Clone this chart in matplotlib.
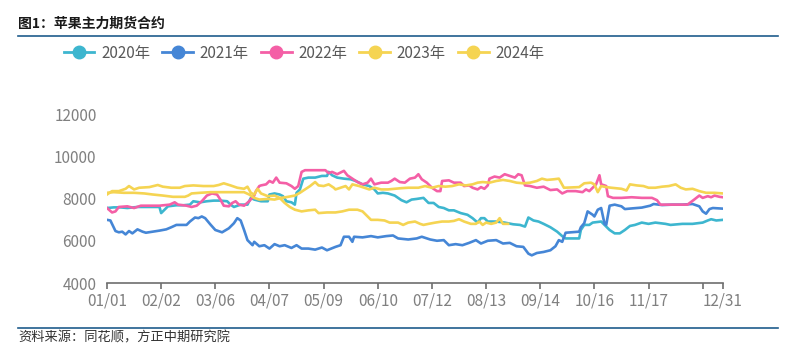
import matplotlib
matplotlib.use("Agg")
import matplotlib.pyplot as plt
from matplotlib.lines import Line2D

plt.rcParams['font.family'] = ['Noto Sans CJK SC', 'DejaVu Sans']

# (day of year, price)
s2020 = [(0, 7550), (4, 7580), (8, 7580), (12, 7550), (18, 7600), (23, 7600), (31, 7600), (32, 7310),
         (34, 7470), (36, 7630), (41, 7680), (45, 7680), (49, 7710), (51, 7870), (55, 7820), (59, 7870),
         (63, 7900), (67, 7900), (71, 7870), (73, 7710), (75, 7600), (79, 7710), (83, 7710), (85, 8030),
         (87, 7950), (91, 7870), (95, 7870), (96, 8190), (99, 8240), (102, 8190), (104, 8110), (106, 7870),
         (109, 7820), (111, 7710), (112, 8270), (114, 8430), (116, 8940), (119, 8990), (123, 8990),
         (127, 9070), (130, 9070), (131, 9260), (133, 9100), (136, 8990), (140, 8940), (144, 8910),
         (147, 8830), (151, 8670), (155, 8590), (158, 8430), (160, 8240), (163, 8270), (166, 8240),
         (170, 8140), (174, 7920), (177, 7820), (180, 7950), (183, 7980), (187, 8030), (190, 7790),
         (193, 7790), (196, 7600), (199, 7550), (202, 7440), (205, 7440), (209, 7310), (213, 7230),
         (216, 7070), (219, 6860), (221, 7070), (223, 7070), (225, 6910), (230, 6910), (235, 6860),
         (240, 6780), (244, 6750), (247, 6670), (249, 7100), (252, 6960), (255, 6910), (258, 6800),
         (262, 6640), (266, 6430), (269, 6220), (271, 6110), (279, 6110), (280, 6510), (282, 6750),
         (285, 6750), (287, 6860), (292, 6910), (294, 6750), (297, 6510), (300, 6350), (303, 6350),
         (306, 6510), (309, 6700), (312, 6750), (316, 6860), (320, 6800), (324, 6860), (330, 6800),
         (333, 6750), (340, 6800), (346, 6800), (352, 6860), (355, 6960), (357, 7020), (360, 6960),
         (364, 6990)]

s2021 = [(0, 6990), (2, 6960), (5, 6460), (7, 6400), (9, 6430), (11, 6300), (13, 6460), (15, 6350),
         (18, 6540), (21, 6430), (23, 6380), (27, 6430), (31, 6480), (35, 6540), (38, 6640), (41, 6750),
         (47, 6750), (49, 6910), (52, 7100), (54, 7070), (56, 7150), (58, 7070), (61, 6780), (64, 6510),
         (68, 6400), (72, 6590), (75, 6830), (77, 7070), (79, 6960), (81, 6510), (83, 6030), (86, 5790),
         (87, 5950), (90, 5740), (93, 5790), (96, 5630), (99, 5840), (102, 5740), (105, 5790),
         (109, 5660), (112, 5790), (115, 5630), (119, 5630), (123, 5580), (127, 5680), (130, 5550),
         (135, 5710), (138, 5790), (140, 6190), (143, 6190), (145, 5950), (146, 6190), (151, 6160),
         (156, 6220), (160, 6160), (165, 6220), (169, 6250), (172, 6110), (178, 6060), (183, 6110),
         (186, 6190), (191, 6060), (195, 6000), (199, 6030), (202, 5790), (206, 5840), (210, 5790),
         (214, 5900), (218, 6030), (221, 5870), (225, 6000), (230, 6030), (234, 5870), (238, 5900),
         (242, 5740), (246, 5710), (249, 5390), (251, 5310), (254, 5420), (258, 5470), (262, 5550),
         (265, 5740), (267, 6030), (269, 5950), (271, 6380), (279, 6430), (280, 6640), (282, 6830),
         (284, 7390), (287, 7230), (288, 7150), (290, 7470), (292, 7550), (294, 6800), (295, 6750),
         (297, 7660), (300, 7710), (304, 7630), (306, 7500), (310, 7530), (316, 7570), (321, 7660),
         (323, 7740), (328, 7690), (334, 7710), (340, 7710), (346, 7740), (350, 7630), (352, 7390),
         (354, 7280), (356, 7500), (358, 7550), (364, 7520)]

s2022 = [(0, 7550), (3, 7340), (5, 7390), (7, 7600), (12, 7630), (16, 7550), (20, 7660), (25, 7660),
         (31, 7660), (37, 7710), (40, 7820), (42, 7710), (47, 7660), (50, 7600), (53, 7660), (56, 7870),
         (59, 8140), (62, 8240), (65, 8190), (67, 7950), (69, 7660), (72, 7630), (74, 7790), (76, 7870),
         (78, 7710), (81, 7660), (84, 7870), (87, 8140), (88, 8350), (90, 8590), (91, 8620), (94, 8670),
         (96, 8830), (98, 8750), (100, 8990), (102, 8750), (106, 8720), (109, 8590), (111, 8460),
         (113, 8590), (115, 9260), (117, 9340), (123, 9340), (129, 9340), (131, 9200), (133, 9260),
         (136, 9150), (140, 9310), (142, 9100), (145, 8940), (148, 8780), (151, 8670), (154, 8750),
         (156, 8940), (158, 8670), (162, 8750), (166, 8750), (168, 8830), (170, 8940), (173, 8780),
         (176, 8750), (179, 8940), (182, 8990), (184, 9150), (186, 8910), (189, 8750), (192, 8510),
         (195, 8350), (197, 8350), (198, 8830), (202, 8860), (205, 8750), (209, 8750), (211, 8590),
         (214, 8620), (216, 8510), (219, 8430), (221, 8540), (223, 8460), (225, 8620), (226, 8940),
         (229, 9040), (232, 8990), (235, 9150), (238, 9070), (241, 8990), (243, 9150), (245, 9100),
         (247, 8620), (250, 8590), (254, 8510), (258, 8560), (262, 8400), (266, 8430), (269, 8240),
         (272, 8350), (277, 8350), (281, 8300), (283, 8430), (285, 8350), (287, 8510), (289, 8670),
         (291, 9100), (292, 8670), (294, 8620), (295, 8590), (296, 8110), (299, 8030), (304, 8030),
         (310, 8060), (316, 8030), (322, 8030), (325, 7920), (327, 7710), (332, 7710), (338, 7710),
         (343, 7710), (347, 7950), (350, 8140), (352, 8030), (355, 8110), (357, 8060), (359, 8140),
         (362, 8080), (364, 8060)]

s2023 = [(0, 8270), (4, 8300), (10, 8270), (16, 8270), (22, 8240), (27, 8190), (33, 8140), (39, 8080),
         (46, 8080), (48, 8140), (50, 8240), (55, 8270), (61, 8300), (67, 8300), (75, 8300), (81, 8300),
         (84, 8190), (87, 8030), (90, 7950), (95, 7980), (99, 7950), (103, 8030), (107, 8080),
         (111, 8140), (114, 8270), (117, 8430), (120, 8590), (123, 8780), (125, 8620), (128, 8590),
         (131, 8670), (134, 8510), (135, 8430), (138, 8510), (141, 8590), (143, 8430), (145, 8670),
         (149, 8590), (152, 8510), (155, 8430), (158, 8510), (162, 8430), (166, 8430), (170, 8460),
         (174, 8490), (178, 8510), (184, 8510), (188, 8590), (192, 8510), (196, 8590), (200, 8560),
         (204, 8590), (208, 8670), (212, 8620), (216, 8670), (219, 8750), (222, 8780), (226, 8750),
         (230, 8830), (234, 8880), (238, 8830), (242, 8750), (246, 8720), (250, 8750), (254, 8830),
         (257, 8940), (260, 8880), (264, 8910), (267, 8940), (270, 8510), (279, 8540), (282, 8720),
         (286, 8750), (288, 8670), (290, 8300), (292, 8590), (295, 8540), (298, 8510), (304, 8460),
         (307, 8380), (309, 8670), (313, 8620), (317, 8590), (320, 8510), (324, 8510), (328, 8560),
         (332, 8590), (336, 8670), (339, 8510), (342, 8430), (346, 8460), (350, 8350), (354, 8270),
         (359, 8270), (364, 8240)]

s2024 = [(0, 8190), (3, 8350), (7, 8350), (11, 8460), (13, 8590), (16, 8430), (19, 8510), (25, 8540),
         (30, 8640), (33, 8560), (38, 8510), (43, 8510), (46, 8590), (51, 8620), (57, 8590), (63, 8590),
         (66, 8640), (69, 8720), (73, 8620), (77, 8510), (81, 8460), (83, 8560), (85, 8270), (87, 8190),
         (89, 8460), (91, 8240), (95, 8110), (99, 8140), (102, 8030), (105, 7790), (108, 7600),
         (111, 7470), (115, 7390), (119, 7440), (123, 7470), (125, 7310), (130, 7340), (135, 7340),
         (139, 7390), (143, 7470), (148, 7470), (151, 7390), (154, 7150), (156, 6990), (160, 6990),
         (164, 6960), (167, 6860), (172, 6860), (175, 6750), (178, 6860), (182, 6910), (185, 6800),
         (187, 6750), (190, 6800), (194, 6860), (198, 6910), (202, 6910), (205, 6940), (208, 7020),
         (211, 6910), (215, 6800), (218, 6800), (220, 6910), (222, 6750), (224, 6860), (227, 6800),
         (230, 6860), (232, 7070), (234, 6800), (237, 6800)]

names = ['2020年', '2021年', '2022年', '2023年', '2024年']
colors = ['#3DB6CF', '#4586D6', '#F45FA6', '#F5D452', '#F5D452']
series = [s2020, s2021, s2022, s2023, s2024]

tick_days = [0, 32, 64, 96, 128, 160, 192, 224, 256, 288, 320, 352, 364]
tick_labels = ['01/01', '02/02', '03/06', '04/07', '05/09', '06/10', '07/12',
               '08/13', '09/14', '10/16', '11/17', '', '12/31']

fig = plt.figure(figsize=(8, 3.49), dpi=100)
ax = fig.add_axes([0.13375, 0.1891, 0.77, 0.4842])

for s, c in zip(series, colors):
    xs = [p[0] for p in s]
    ys = [p[1] for p in s]
    ax.plot(xs, ys, color=c, lw=1.9, solid_joinstyle='round')

ax.set_xlim(0, 364)
ax.set_ylim(4000, 12000)
ax.set_yticks([4000, 6000, 8000, 10000, 12000])
ax.set_xticks(tick_days)
ax.set_xticklabels(tick_labels)
for sp in ['left', 'right', 'top']:
    ax.spines[sp].set_visible(False)
ax.spines['bottom'].set_color('#6E6E6E')
ax.spines['bottom'].set_linewidth(1.2)
ax.tick_params(axis='y', length=0, pad=7.5, labelsize=11, labelcolor='#808080')
ax.tick_params(axis='x', length=4, width=1.2, color='#6E6E6E', pad=3,
               labelsize=11, labelcolor='#808080')

handles = [Line2D([], [], color=c, lw=2, marker='o', markersize=9) for c in colors]
fig.legend(handles, names, loc='center left', bbox_to_anchor=(0.070, 0.848), ncol=5,
           frameon=False, fontsize=11, handlelength=2.0, handletextpad=0.45,
           columnspacing=0.8, borderpad=0, labelcolor='#595959')

fig.text(18 / 800, 1 - 24 / 349, '图1：苹果主力期货合约', fontsize=10, fontweight='bold',
         color='#1A1A1A', va='center', ha='left')
fig.add_artist(Line2D([18 / 800, 778 / 800], [1 - 36 / 349, 1 - 36 / 349], color='#1F5C8C', lw=1.2))
fig.add_artist(Line2D([18 / 800, 778 / 800], [1 - 328 / 349, 1 - 328 / 349], color='#1F5C8C', lw=1.2))
fig.text(18 / 800, 1 - 338 / 349, '资料来源：同花顺，方正中期研究院', fontsize=9.5, style='italic',
         color='#333333', va='center', ha='left')

fig.savefig('out.png', dpi=100)
